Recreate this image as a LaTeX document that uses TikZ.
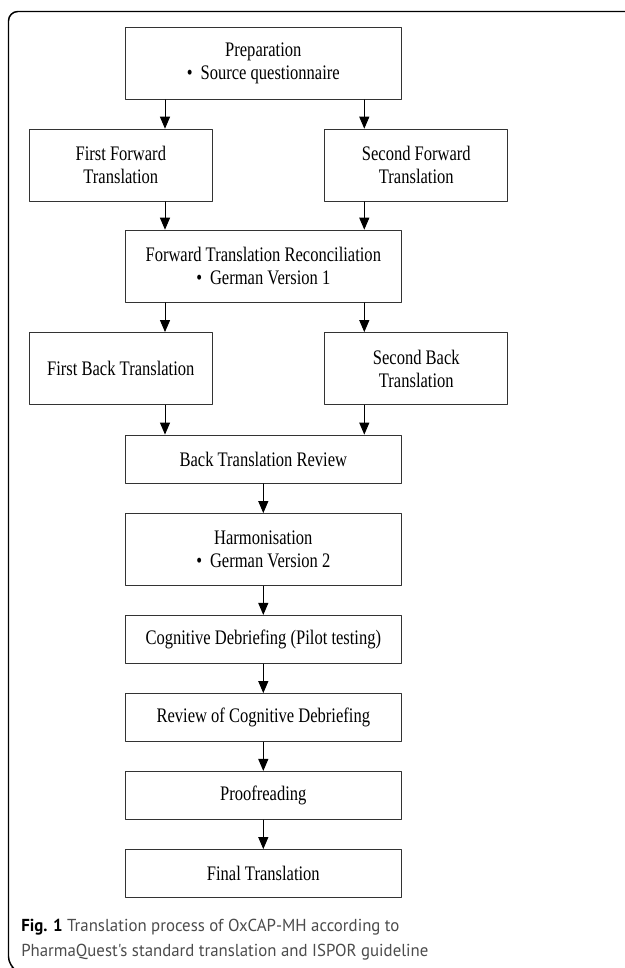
\documentclass[tikz,border=0pt]{standalone}
\usepackage{fontspec}
\setmainfont[FakeStretch=0.8]{Liberation Serif}
\newfontfamily\capfont[FakeStretch=0.97]{PT Sans}
\usepackage{tikz}
\usetikzlibrary{arrows.meta}
\usetikzlibrary{positioning}
\definecolor{boxgray}{rgb}{0.2,0.2,0.2}
\definecolor{capgray}{rgb}{0.3,0.3,0.3}

\begin{document}
\begin{tikzpicture}[line cap=round,line join=round,>={Triangle[length=9pt,width=7.5pt]},x=0.75pt,y=-0.75pt,
  stepbox/.style={draw=boxgray,line width=0.9pt,inner sep=0pt,align=center,minimum height=54pt,
    font=\fontsize{15.5}{17.2}\selectfont},
  widebox/.style={stepbox,minimum width=207pt},
  sidebox/.style={stepbox,minimum width=137.25pt},
  flatbox/.style={widebox,minimum height=36pt},
  link/.style={->,line width=0.75pt,color=black}]
\useasboundingbox (0,0) rectangle (625,968);
\draw[line width=1.1pt,rounded corners=7pt] (626,11.5) -- (8.5,11.5) -- (8.5,966) -- (12,968);
\node[widebox] (prep) at (263.3,63.2) {Preparation\\\textbullet\hspace{6pt}Source questionnaire};
\node[sidebox] (ff) at (120.8,165.3) {First Forward\\Translation};
\node[sidebox] (sf) at (416.3,165.3) {Second Forward\\Translation};
\node[widebox] (ftr) at (263.3,266.3) {Forward Translation Reconciliation\\\textbullet\hspace{6pt}German Version 1};
\node[sidebox] (fb) at (120.8,368.7) {First Back Translation};
\node[sidebox] (sb) at (416.3,368.7) {Second Back\\Translation};
\node[flatbox] (btr) at (263.3,459.2) {Back Translation Review};
\node[widebox] (harm) at (263.3,549.7) {Harmonisation\\\textbullet\hspace{6pt}German Version 2};
\node[flatbox] (cog) at (263.3,639.5) {Cognitive Debriefing (Pilot testing)};
\node[flatbox] (rev) at (263.3,717.7) {Review of Cognitive Debriefing};
\node[flatbox] (proof) at (263.3,795.5) {Proofreading};
\node[flatbox] (final) at (263.3,873.7) {Final Translation};
\coordinate (lx) at (165,0);
\coordinate (rx) at (364.3,0);
\draw[link] (prep.south -| lx) -- (ff.north -| lx);
\draw[link] (prep.south -| rx) -- (sf.north -| rx);
\draw[link] (ff.south -| lx) -- (ftr.north -| lx);
\draw[link] (sf.south -| rx) -- (ftr.north -| rx);
\draw[link] (ftr.south -| lx) -- (fb.north -| lx);
\draw[link] (ftr.south -| rx) -- (sb.north -| rx);
\draw[link] (fb.south -| lx) -- (btr.north -| lx);
\draw[link] (sb.south -| rx) -- (btr.north -| rx);
\foreach \a/\b in {btr/harm,harm/cog,cog/rev,rev/proof,proof/final}
\draw[link] (\a.south) -- (\b.north);
\node[anchor=base west,align=left,inner sep=0pt,text=capgray,font=\capfont\fontsize{13}{18.75}\selectfont] (caption) at (21,956.7)
  {{\color{black}\bfseries Fig. 1} Translation process of OxCAP-MH according to\\PharmaQuest's standard translation and ISPOR guideline};
\end{tikzpicture}
\end{document}
